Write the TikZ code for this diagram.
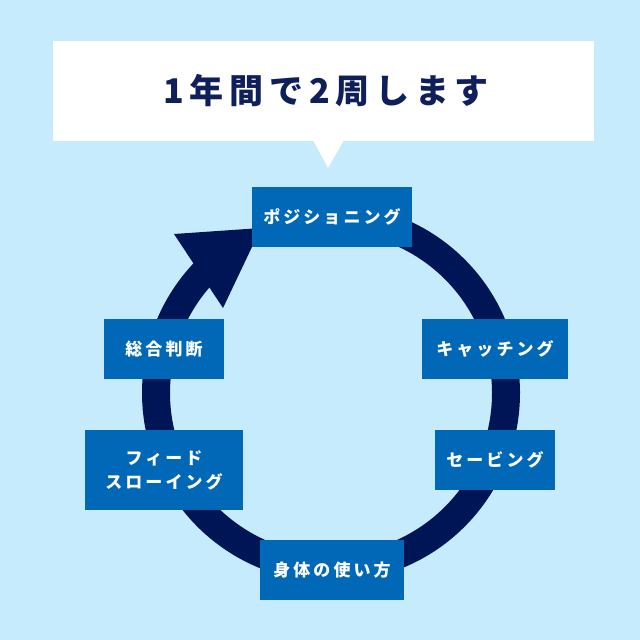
\documentclass[tikz,border=0pt]{standalone}
\usepackage{fontspec}
\newfontfamily\jp[LetterSpace=18]{Noto Sans CJK JP}
\newfontfamily\jpt[LetterSpace=17]{Noto Sans CJK JP}
\definecolor{bg}{HTML}{C6EBFD}
\definecolor{navy}{HTML}{001556}
\definecolor{boxblue}{HTML}{0068B7}
\definecolor{titlenavy}{HTML}{0F1F5C}
\tikzset{
  stage/.style={fill=boxblue, text=white, inner sep=0pt, minimum height=60pt,
    font=\jp\bfseries\fontsize{17pt}{24pt}\selectfont, align=center},
}
\begin{document}
\begin{tikzpicture}[x=1pt,y=-1pt]
\fill[bg] (0,0) rectangle (640,640);
\useasboundingbox (0,0) rectangle (640,640);
% callout
\fill[white] (53,41) rectangle (594,141);
\fill[white] (313,140) -- (344,140) -- (328,168) -- cycle;
\node[text=titlenavy, font=\jpt\bfseries\fontsize{34pt}{40pt}\selectfont] (title) at (326,91) {1年間で2周します};
% ring
\coordinate (c) at (331,393);
\draw[navy, line width=28pt] (c) ++(-95:175) arc[start angle=-95, end angle=224, radius=175];
\fill[navy] (174,234) -- (261,228) -- (223,308) -- cycle;
% stages
\node[stage, minimum width=160pt] (pos) at (332,217) {ポジショニング};
\node[stage, minimum width=146pt] (catch) at (495,349) {キャッチング};
\node[stage, minimum width=120pt] (save) at (495,460) {セービング};
\node[stage, minimum width=144pt] (body) at (332,570) {身体の使い方};
\node[stage, minimum width=158pt, minimum height=80pt] (feed) at (164,470) {フィード\\スローイング};
\node[stage, minimum width=120pt] (judge) at (164,349) {総合判断};
\end{tikzpicture}
\end{document}
